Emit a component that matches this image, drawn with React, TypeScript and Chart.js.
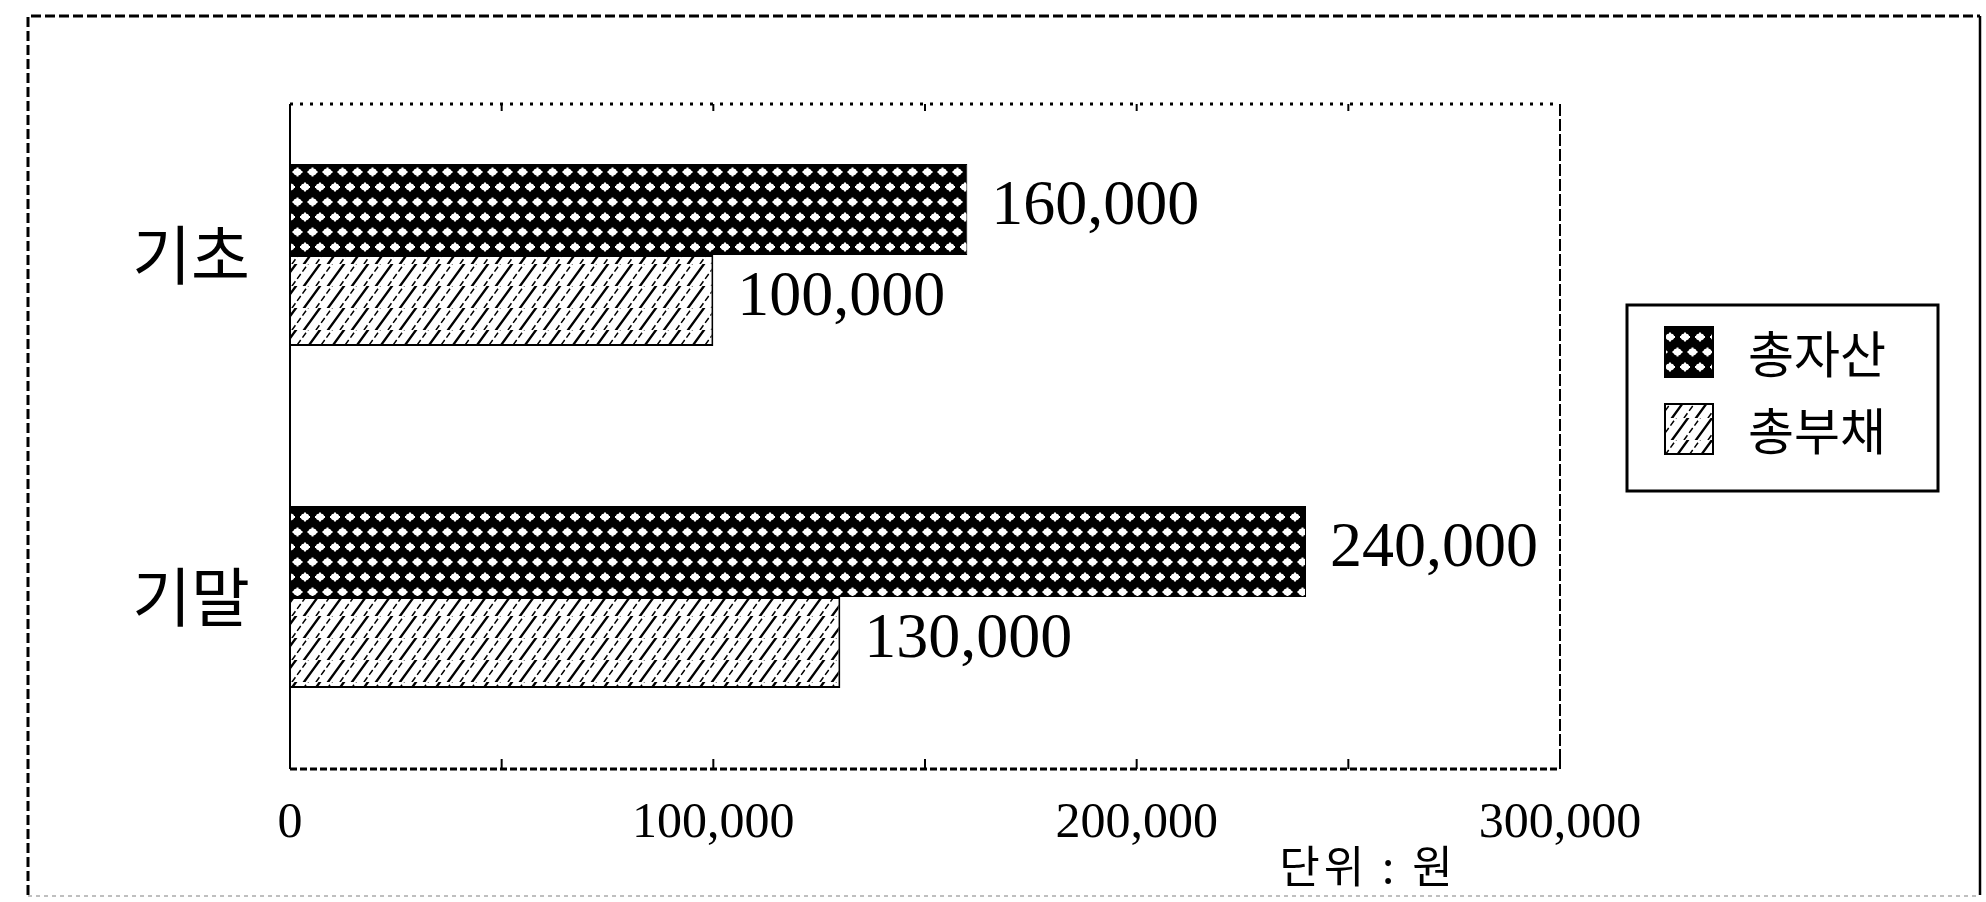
import React, { useEffect, useRef } from "react";
import { Chart, registerables } from "chart.js";

Chart.register(...registerables);

const categories = ["기초", "기말"];
const seriesLabels = ["총자산", "총부채"];
const totalAssets = [160000, 240000];
const totalLiabilities = [100000, 130000];
const xTickValues = [0, 100000, 200000, 300000];
const unitLabel = "단위 : 원";

const W = 1986;
const H = 902;

function makeDotPattern(ctx: CanvasRenderingContext2D) {
  const c = document.createElement("canvas");
  c.width = 30;
  c.height = 30;
  const g = c.getContext("2d")!;
  g.fillStyle = "#000";
  g.fillRect(0, 0, 30, 30);
  g.fillStyle = "#fff";
  const dot = (x: number, y: number) => {
    g.beginPath();
    g.ellipse(x, y, 4.2, 3.4, 0, 0, Math.PI * 2);
    g.fill();
    g.fillRect(x - 5, y - 1, 10, 2);
    g.fillRect(x - 1, y - 4.5, 2, 9);
  };
  dot(5, 7);
  dot(20, 7);
  dot(12.5, 22);
  dot(27.5, 22);
  dot(-2.5, 22);
  return ctx.createPattern(c, "repeat")!;
}

function makeHatchPattern(ctx: CanvasRenderingContext2D) {
  const c = document.createElement("canvas");
  const w = 24;
  const h = 22;
  c.width = w;
  c.height = h;
  const g = c.getContext("2d")!;
  g.fillStyle = "#fff";
  g.fillRect(0, 0, w, h);
  g.strokeStyle = "#000";
  const line = (off: number, lw: number, dash: number[]) => {
    g.lineWidth = lw;
    g.setLineDash(dash);
    g.beginPath();
    for (const k of [-1, 0, 1]) {
      g.moveTo(off + k * w - w, h * 2);
      g.lineTo(off + k * w + w, -h);
    }
    g.stroke();
  };
  line(0, 2.4, []);
  line(12, 1.5, [6, 3]);
  return ctx.createPattern(c, "repeat")!;
}

const fmt = (v: number) => Number(v).toLocaleString("en-US");

export default function App() {
  const ref = useRef<HTMLCanvasElement>(null);

  useEffect(() => {
    const canvas = ref.current!;
    const ctx = canvas.getContext("2d")!;
    const dotPat = makeDotPattern(ctx);
    const hatchPat = makeHatchPattern(ctx);

    const framePlugin = {
      id: "frame",
      beforeDraw(chart: any) {
        const c = chart.ctx;
        c.save();
        c.fillStyle = "#fff";
        c.fillRect(0, 0, W, H);
        // outer border
        c.strokeStyle = "#000";
        c.lineWidth = 3;
        c.setLineDash([10, 4]);
        c.beginPath();
        c.moveTo(28, 895);
        c.lineTo(28, 16);
        c.lineTo(1980, 16);
        c.stroke();
        c.setLineDash([]);
        c.lineWidth = 2.5;
        c.beginPath();
        c.moveTo(1980, 16);
        c.lineTo(1980, 895);
        c.stroke();
        c.strokeStyle = "#aaa";
        c.lineWidth = 1.5;
        c.setLineDash([4, 4]);
        c.beginPath();
        c.moveTo(28, 896);
        c.lineTo(1980, 896);
        c.stroke();
        c.restore();
      },
      afterDraw(chart: any) {
        const c = chart.ctx;
        const a = chart.chartArea;
        const xs = chart.scales.x;
        const top = a.top + 20;
        const bottom = a.bottom + 1;
        c.save();
        c.strokeStyle = "#000";
        // top dotted
        c.lineWidth = 3;
        c.setLineDash([3, 7]);
        c.beginPath();
        c.moveTo(a.left, top);
        c.lineTo(a.right, top);
        c.stroke();
        // bottom dashed
        c.setLineDash([7, 3]);
        c.beginPath();
        c.moveTo(a.left, bottom);
        c.lineTo(a.right, bottom);
        c.stroke();
        // left solid
        c.setLineDash([]);
        c.lineWidth = 2;
        c.beginPath();
        c.moveTo(a.left, top);
        c.lineTo(a.left, bottom);
        c.stroke();
        // right
        c.setLineDash([12, 3]);
        c.beginPath();
        c.moveTo(a.right, top);
        c.lineTo(a.right, bottom);
        c.stroke();
        c.setLineDash([]);
        c.lineWidth = 2;
        for (let v = 0; v <= 300000; v += 50000) {
          const px = xs.getPixelForValue(v);
          c.beginPath();
          c.moveTo(px, bottom);
          c.lineTo(px, bottom - 10);
          c.stroke();
          c.beginPath();
          c.moveTo(px, top);
          c.lineTo(px, top + 7);
          c.stroke();
        }

        // data labels
        c.fillStyle = "#000";
        c.font = "64px 'Liberation Serif'";
        c.textAlign = "left";
        c.textBaseline = "middle";
        chart.data.datasets.forEach((ds: any, di: number) => {
          const meta = chart.getDatasetMeta(di);
          meta.data.forEach((bar: any, i: number) => {
            c.fillText(fmt(ds.data[i]), bar.x + 24, bar.y - 2);
          });
        });

        // unit label
        c.font = "44px 'Noto Sans CJK KR'";
        c.textAlign = "center";
        (c as any).letterSpacing = "4px";
        c.fillText(unitLabel, 1368, 866);
        (c as any).letterSpacing = "0px";

        // legend
        c.lineWidth = 3;
        c.strokeRect(1627, 305, 311, 186);
        const rows = [352, 429];
        chart.data.datasets.forEach((ds: any, di: number) => {
          const y = rows[di];
          c.fillStyle = ds.backgroundColor;
          c.fillRect(1665, y - 25, 48, 50);
          c.lineWidth = 2;
          c.strokeStyle = "#000";
          c.strokeRect(1665, y - 25, 48, 50);
          c.fillStyle = "#000";
          c.font = "50px 'Noto Sans CJK KR'";
          c.textAlign = "left";
          c.fillText(ds.label, 1748, y + 2);
        });
        c.restore();
      },
    };

    const chart = new Chart(canvas, {
      type: "bar",
      data: {
        labels: categories,
        datasets: [
          {
            label: seriesLabels[0],
            data: totalAssets,
            backgroundColor: dotPat as any,
            borderColor: "#000",
            borderWidth: 1,
            barPercentage: 1,
            categoryPercentage: 0.532,
          },
          {
            label: seriesLabels[1],
            data: totalLiabilities,
            backgroundColor: hatchPat as any,
            borderColor: "#000",
            borderWidth: 2,
            barPercentage: 1,
            categoryPercentage: 0.532,
          },
        ],
      },
      options: {
        indexAxis: "y",
        animation: false,
        responsive: false,
        maintainAspectRatio: false,
        devicePixelRatio: 1,
        layout: { padding: { top: 84, right: 426, bottom: 0, left: 0 } },
        plugins: {
          legend: { display: false },
          tooltip: { enabled: false },
        },
        scales: {
          x: {
            type: "linear",
            min: 0,
            max: 300000,
            afterFit: (s: any) => {
              s.height = 134;
            },
            afterBuildTicks: (s: any) => {
              s.ticks = xTickValues.map((v) => ({ value: v }));
            },
            grid: { display: false, drawTicks: false },
            border: { display: false },
            ticks: {
              padding: 26,
              color: "#000",
              font: { family: "'Liberation Serif'", size: 50 },
              callback: (v: any) => fmt(v),
            },
          },
          y: {
            afterFit: (s: any) => {
              s.width = 290;
            },
            grid: { display: false, drawTicks: false },
            border: { display: false },
            ticks: {
              padding: 40,
              color: "#000",
              font: { family: "'Noto Sans CJK KR'", size: 64 },
            },
          },
        },
      },
      plugins: [framePlugin],
    } as any);
    return () => chart.destroy();
  }, []);

  return (
    <div style={{ position: "fixed", left: 0, top: 0, width: W, height: H, background: "#fff" }}>
      <canvas ref={ref} width={W} height={H} style={{ width: W, height: H, display: "block" }} />
    </div>
  );
}
